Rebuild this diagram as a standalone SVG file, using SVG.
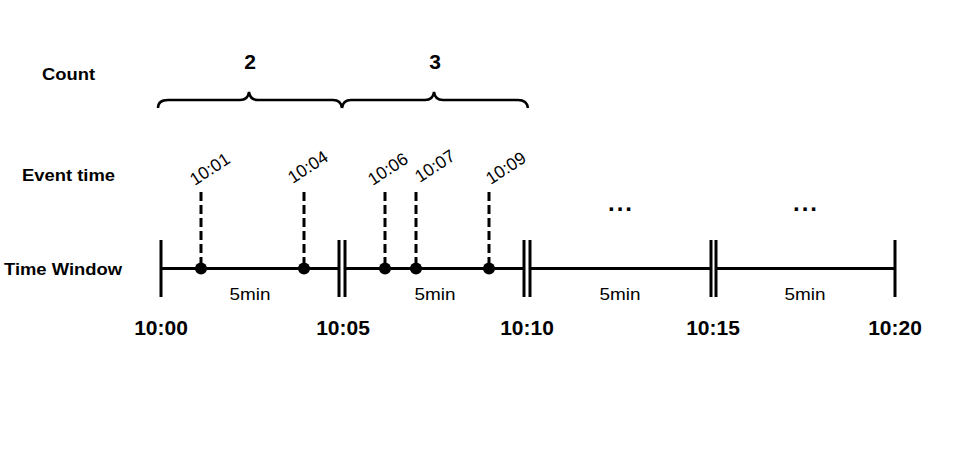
<svg xmlns="http://www.w3.org/2000/svg" width="960" height="458" viewBox="0 0 960 458">
<style>
  text { font-family: "Liberation Sans", Arial, sans-serif; fill: #000; }
  .row { font-size: 16px; font-weight: bold; }
  .cnt { font-size: 21px; font-weight: bold; text-anchor: middle; }
  .tick { font-size: 21px; font-weight: bold; text-anchor: middle; }
  .dur { font-size: 17px; text-anchor: middle; }
  .ev { font-size: 17.5px; text-anchor: middle; }
  .dots { font-size: 24px; font-weight: bold; text-anchor: middle; letter-spacing: 2px; }
  .ln { stroke: #000; stroke-width: 3; fill: none; }
  .dash { stroke: #000; stroke-width: 3; stroke-dasharray: 9 4; fill: none; }
  .brace { stroke: #000; stroke-width: 2.5; fill: none; }
</style>
<rect width="960" height="458" fill="#fff"/>

<g id="row-labels">
  <text class="row" x="42" y="80" textLength="53" lengthAdjust="spacingAndGlyphs">Count</text>
  <text class="row" x="22" y="181" textLength="93" lengthAdjust="spacingAndGlyphs">Event time</text>
  <text class="row" x="4" y="275" textLength="118" lengthAdjust="spacingAndGlyphs">Time Window</text>
</g>

<g id="counts">
  <g id="count-1">
    <text class="cnt" x="250" y="69">2</text>
    <path class="brace" d="M158,108 Q158,100 168,100 L240,100 Q248,100 249,92 Q250,100 258,100 L333,100 Q341,100 342,108"/>
  </g>
  <g id="count-2">
    <text class="cnt" x="435" y="69">3</text>
    <path class="brace" d="M342,108 Q343,100 351,100 L425,100 Q433,100 434,92 Q435,100 443,100 L518,100 Q527,100 528,108"/>
  </g>
</g>

<g id="connectors">
  <line class="ln" x1="161" y1="268.5" x2="339" y2="268.5"/>
  <line class="ln" x1="345" y1="268.5" x2="524" y2="268.5"/>
  <line class="ln" x1="530" y1="268.5" x2="711" y2="268.5"/>
  <line class="ln" x1="716" y1="268.5" x2="895" y2="268.5"/>
  <line class="dash" x1="201" y1="192" x2="201" y2="268"/>
  <line class="dash" x1="304" y1="192" x2="304" y2="268"/>
  <line class="dash" x1="385" y1="192" x2="385" y2="268"/>
  <line class="dash" x1="416" y1="192" x2="416" y2="268"/>
  <line class="dash" x1="489" y1="192" x2="489" y2="268"/>
</g>

<g id="boundaries">
  <g id="b-1000"><line class="ln" x1="161" y1="240" x2="161" y2="297"/><text class="tick" x="161" y="335">10:00</text></g>
  <g id="b-1005"><line class="ln" x1="339" y1="240" x2="339" y2="297"/><line class="ln" x1="345" y1="240" x2="345" y2="297"/><text class="tick" x="343" y="335">10:05</text></g>
  <g id="b-1010"><line class="ln" x1="524" y1="240" x2="524" y2="297"/><line class="ln" x1="530" y1="240" x2="530" y2="297"/><text class="tick" x="527" y="335">10:10</text></g>
  <g id="b-1015"><line class="ln" x1="711" y1="240" x2="711" y2="297"/><line class="ln" x1="716" y1="240" x2="716" y2="297"/><text class="tick" x="713" y="335">10:15</text></g>
  <g id="b-1020"><line class="ln" x1="895" y1="240" x2="895" y2="297"/><text class="tick" x="895" y="335">10:20</text></g>
</g>

<g id="windows">
  <g id="w-1"><text class="dur" x="250" y="300" textLength="41" lengthAdjust="spacingAndGlyphs">5min</text></g>
  <g id="w-2"><text class="dur" x="435" y="300" textLength="41" lengthAdjust="spacingAndGlyphs">5min</text></g>
  <g id="w-3"><text class="dur" x="620" y="300" textLength="41" lengthAdjust="spacingAndGlyphs">5min</text><text class="dots" x="621" y="211">...</text></g>
  <g id="w-4"><text class="dur" x="805" y="300" textLength="41" lengthAdjust="spacingAndGlyphs">5min</text><text class="dots" x="806" y="211">...</text></g>
</g>

<g id="events">
  <g id="e-1001"><circle cx="201" cy="268.5" r="6"/><text class="ev" transform="translate(213,174) rotate(-33)">10:01</text></g>
  <g id="e-1004"><circle cx="304" cy="268.5" r="6"/><text class="ev" transform="translate(311,172) rotate(-33)">10:04</text></g>
  <g id="e-1006"><circle cx="385" cy="268.5" r="6"/><text class="ev" transform="translate(391,174) rotate(-33)">10:06</text></g>
  <g id="e-1007"><circle cx="416" cy="268.5" r="6"/><text class="ev" transform="translate(438,171) rotate(-33)">10:07</text></g>
  <g id="e-1009"><circle cx="489" cy="268.5" r="6"/><text class="ev" transform="translate(509,173) rotate(-33)">10:09</text></g>
</g>
</svg>
